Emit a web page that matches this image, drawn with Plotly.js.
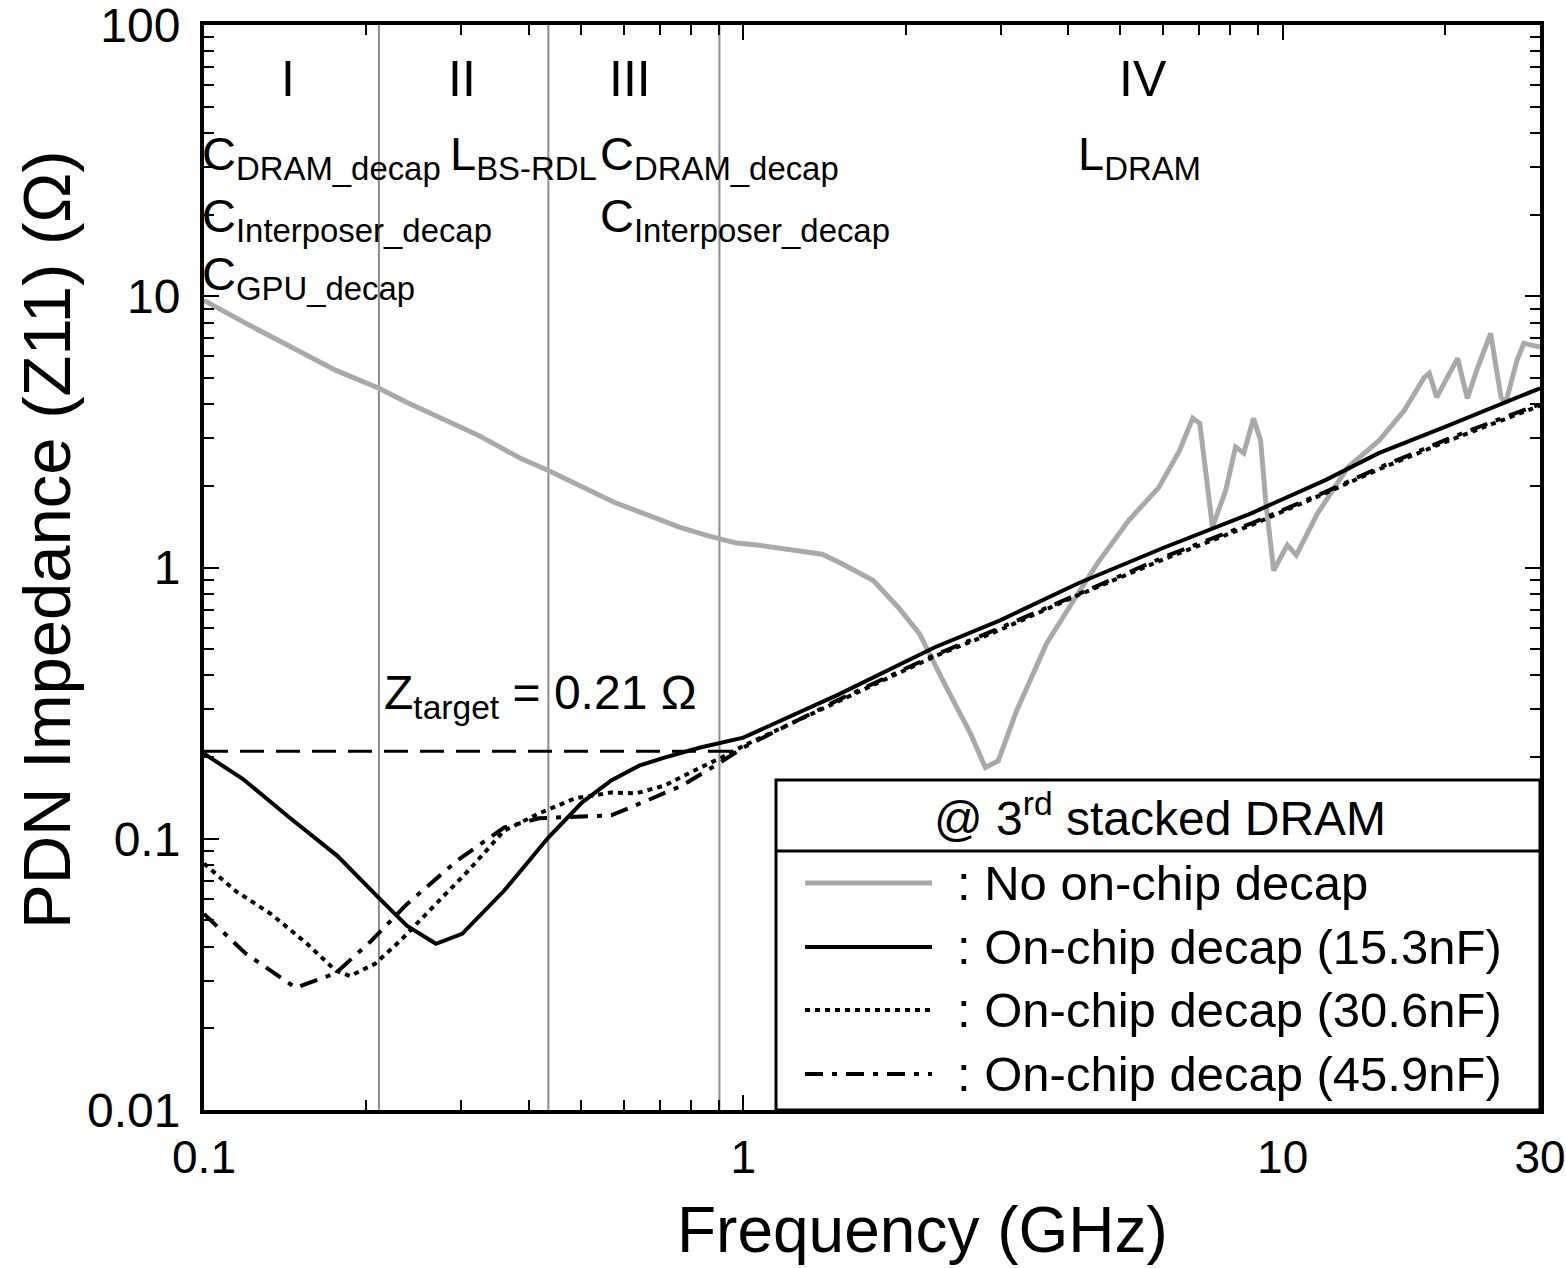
<!DOCTYPE html>
<html>
<head>
<meta charset="utf-8">
<script src="https://cdn.plot.ly/plotly-3.0.1.min.js"></script>
<style>html,body{margin:0;padding:0;background:#fff;}#chart{width:1566px;height:1268px;}</style>
</head>
<body>
<div id="chart"></div>
<script>
// ---- data ----
const freqNoDecap = [0.1, 0.1196, 0.1757, 0.211, 0.238, 0.323, 0.387, 0.435, 0.576, 0.713, 0.761, 0.858, 0.971, 1.06, 1.227, 1.40, 1.527, 1.742, 1.94, 2.121, 2.36, 2.638, 2.81, 2.97, 3.21, 3.65, 4.17, 4.54, 5.18, 5.89, 6.44, 6.81, 7.02, 7.26, 7.41, 7.84, 8.18, 8.47, 8.83, 9.10, 9.30, 9.62, 10.2, 10.6, 11.6, 13.2, 15.1, 16.8, 18.3, 18.7, 19.3, 20.2, 21.1, 22.0, 23.0, 24.3, 25.4, 25.9, 27.2, 28.0, 30];
const zNoDecap = [9.66, 7.94, 5.33, 4.58, 4.06, 3.07, 2.52, 2.28, 1.74, 1.49, 1.41, 1.31, 1.23, 1.21, 1.16, 1.12, 1.03, 0.895, 0.711, 0.570, 0.373, 0.244, 0.183, 0.194, 0.296, 0.525, 0.80, 1.04, 1.49, 1.97, 2.70, 3.55, 3.40, 1.97, 1.41, 1.92, 2.78, 2.64, 3.55, 2.94, 1.77, 0.975, 1.21, 1.11, 1.58, 2.34, 2.94, 3.79, 5.02, 5.20, 4.24, 5.02, 5.90, 4.20, 5.47, 7.29, 4.24, 4.03, 5.81, 6.71, 6.49];

const freq153 = [0.1, 0.1181, 0.1438, 0.1767, 0.2109, 0.238, 0.2692, 0.301, 0.360, 0.435, 0.502, 0.569, 0.641, 0.714, 0.832, 0.910, 1.0, 1.5, 2.26, 3, 4.17, 6, 8.72, 12, 15.07, 20, 25, 30];
const z153 = [0.206, 0.166, 0.120, 0.0865, 0.0605, 0.0477, 0.041, 0.0446, 0.0643, 0.101, 0.136, 0.164, 0.186, 0.199, 0.217, 0.226, 0.236, 0.34, 0.507, 0.64, 0.873, 1.18, 1.58, 2.1, 2.64, 3.3, 3.95, 4.58];

const freq306 = [0.1, 0.1147, 0.1331, 0.1553, 0.1757, 0.1866, 0.2075, 0.231, 0.2648, 0.309, 0.360, 0.418, 0.488, 0.569, 0.633, 0.714, 0.832, 0.910, 1.0, 1.5, 2.26, 3, 4.17, 6, 8.72, 12, 15.07, 20, 25, 30];
const z306 = [0.081, 0.064, 0.0528, 0.041, 0.0326, 0.0312, 0.0346, 0.042, 0.0556, 0.0762, 0.107, 0.124, 0.141, 0.148, 0.147, 0.157, 0.183, 0.199, 0.220, 0.32, 0.47, 0.59, 0.79, 1.07, 1.43, 1.88, 2.3, 2.9, 3.45, 3.95];

const freq459 = [0.1, 0.1196, 0.148, 0.1757, 0.2041, 0.238, 0.2946, 0.360, 0.418, 0.488, 0.569, 0.661, 0.770, 0.898, 1.0, 1.5, 2.26, 3, 4.17, 6, 8.72, 12, 15.07, 20, 25, 30];
const z459 = [0.0528, 0.0377, 0.0282, 0.032, 0.042, 0.0575, 0.083, 0.110, 0.119, 0.120, 0.122, 0.138, 0.157, 0.189, 0.217, 0.325, 0.475, 0.6, 0.8, 1.09, 1.45, 1.9, 2.33, 2.95, 3.5, 4.0];

const regionBounds = [0.211, 0.435, 0.903];
const zTarget = 0.21;
const targetFreqSpan = [0.1, 0.95];

const xTickVals = [0.1, 1, 10, 30];
const xTickText = ['0.1', '1', '10', '30'];
const yTickVals = [0.01, 0.1, 1, 10, 100];
const yTickText = ['0.01', '0.1', '1', '10', '100'];
const xMinorVals = [0.2,0.3,0.4,0.5,0.6,0.7,0.8,0.9,2,3,4,5,6,7,8,9,20];
const yMinorVals = [0.02,0.03,0.04,0.05,0.06,0.07,0.08,0.09,0.2,0.3,0.4,0.5,0.6,0.7,0.8,0.9,2,3,4,5,6,7,8,9,20,30,40,50,60,70,80,90];

const legendTitle = '@ 3<sup>rd</sup> stacked DRAM';
const seriesNames = [': No on-chip decap', ': On-chip decap (15.3nF)', ': On-chip decap (30.6nF)', ': On-chip decap (45.9nF)'];

// ---- geometry helpers (pixel -> paper) ----
const L = 204, R = 1540, T = 25, B = 1110;
const px = x => (x - L) / (R - L);
const py = y => (B - y) / (B - T);
const FONT = 'Liberation Sans, Arial, sans-serif';

const DASHDOT = '18px,9px,5px,9px';
const DOT = '5px,5px';

const traces = [];
regionBounds.forEach(b => traces.push({x: [b, b], y: [0.01, 100], mode: 'lines', line: {color: '#8c8c8c', width: 2}, hoverinfo: 'skip'}));
traces.push({x: targetFreqSpan, y: [zTarget, zTarget], mode: 'lines', line: {color: 'black', width: 3, dash: '24px,12px'}, hoverinfo: 'skip'});
traces.push({x: freqNoDecap, y: zNoDecap, mode: 'lines', name: seriesNames[0], line: {color: '#a9a9a9', width: 5}});
traces.push({x: freq306, y: z306, mode: 'lines', name: seriesNames[2], line: {color: 'black', width: 4, dash: DOT}});
traces.push({x: freq459, y: z459, mode: 'lines', name: seriesNames[3], line: {color: 'black', width: 4, dash: DASHDOT}});
traces.push({x: freq153, y: z153, mode: 'lines', name: seriesNames[1], line: {color: 'black', width: 4}});

const ann = [];
function A(text, x, y, size, xanchor, extra) {
  ann.push(Object.assign({text: text, x: px(x), y: py(y), xref: 'paper', yref: 'paper', showarrow: false,
    xanchor: xanchor || 'left', yanchor: 'middle', font: {family: FONT, size: size, color: 'black'}}, extra || {}));
}
A('I', 288, 79, 50, 'center');
A('II', 462, 79, 50, 'center');
A('III', 630, 79, 50, 'center');
A('IV', 1143, 79, 50, 'center');
A('C<sub>DRAM_decap</sub>', 200, 157, 47);
A('C<sub>Interposer_decap</sub>', 200, 219, 47);
A('C<sub>GPU_decap</sub>', 200, 277, 47);
A('L<sub>BS-RDL</sub>', 448, 157, 47);
A('C<sub>DRAM_decap</sub>', 598, 157, 47);
A('C<sub>Interposer_decap</sub>', 598, 219, 47);
A('L<sub>DRAM</sub>', 1076, 157, 47);
A('Z<sub>target</sub> = 0.21 Ω', 382, 696, 48);
A('Frequency (GHz)', 922, 1230, 64, 'center');
A('PDN Impedance (Z11) (Ω)', 46, 540, 67, 'center', {textangle: -90});
// legend texts
A(legendTitle, 1160, 815, 48, 'center');
const legY = [883, 947, 1010, 1074];
seriesNames.forEach((n, i) => A(n, 955, legY[i], 49, 'left'));

const shapes = [];
shapes.push({type: 'rect', xref: 'paper', yref: 'paper', x0: px(776), x1: px(1540), y0: py(1110), y1: py(780), line: {color: 'black', width: 3}, fillcolor: 'white', layer: 'above'});
shapes.push({type: 'line', xref: 'paper', yref: 'paper', x0: px(776), x1: px(1540), y0: py(851), y1: py(851), line: {color: 'black', width: 3}, layer: 'above'});
const legStyles = [
  {color: '#a9a9a9', width: 5},
  {color: 'black', width: 4},
  {color: 'black', width: 4, dash: DOT},
  {color: 'black', width: 4, dash: DASHDOT}
];
legStyles.forEach((s, i) => shapes.push({type: 'line', xref: 'paper', yref: 'paper', x0: px(805), x1: px(932), y0: py(legY[i]), y1: py(legY[i]), line: s, layer: 'above'}));

const axisCommon = {
  type: 'log', showgrid: false, zeroline: false, showline: true, linecolor: 'black', linewidth: 4,
  mirror: 'ticks', ticks: 'inside', ticklen: 15, tickwidth: 2, tickcolor: 'black',
  tickmode: 'array', ticklabeloverflow: 'allow', tickfont: {family: FONT, size: 48, color: 'black'}
};

const layout = {
  width: 1566, height: 1268,
  margin: {l: L, r: 1566 - R, t: T, b: 1268 - B, pad: 0},
  paper_bgcolor: 'white', plot_bgcolor: 'white',
  showlegend: false,
  xaxis: Object.assign({}, axisCommon, {
    range: [-1, Math.log10(30)], tickvals: xTickVals, ticktext: xTickText, ticklabelstandoff: 4,
    tickfont: {family: FONT, size: 46, color: 'black'},
    minor: {tickmode: 'array', tickvals: xMinorVals, ticks: 'inside', ticklen: 10, tickwidth: 2, tickcolor: 'black', showgrid: false}
  }),
  yaxis: Object.assign({}, axisCommon, {
    range: [-2, 2], tickvals: yTickVals, ticktext: yTickText, ticklabelstandoff: 10,
    minor: {tickmode: 'array', tickvals: yMinorVals, ticks: 'inside', ticklen: 10, tickwidth: 2, tickcolor: 'black', showgrid: false}
  }),
  annotations: ann,
  shapes: shapes
};

Plotly.newPlot('chart', traces, layout, {displayModeBar: false, staticPlot: true});
</script>
</body>
</html>
